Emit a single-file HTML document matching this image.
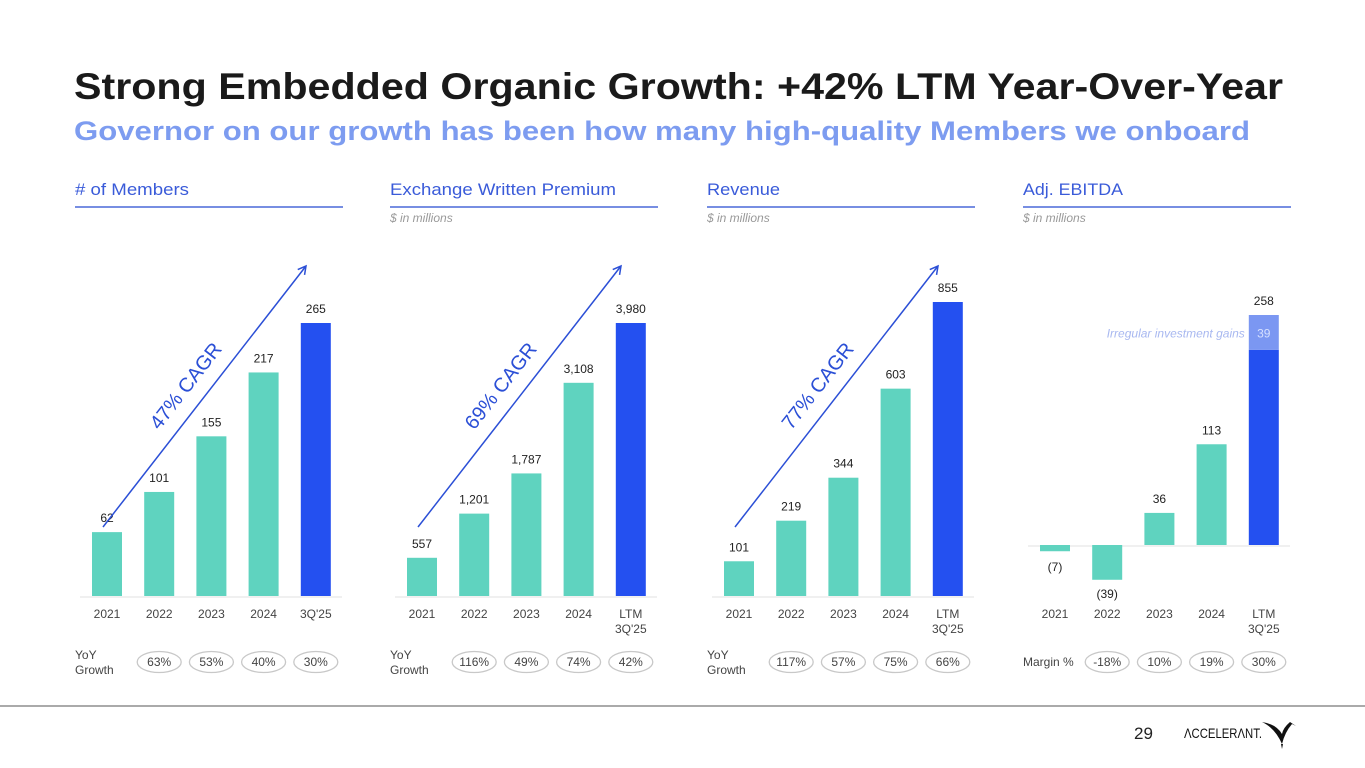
<!DOCTYPE html>
<html><head><meta charset="utf-8"><style>
body{margin:0;width:1365px;height:768px;background:#fff;overflow:hidden;font-family:"Liberation Sans",sans-serif}
svg{position:absolute;left:0;top:0}
</style></head><body>
<svg id="s" width="1365" height="768">
<text x="74" y="99" font-size="37" font-weight="bold" fill="#1a1a1a" textLength="1209" lengthAdjust="spacingAndGlyphs">Strong Embedded Organic Growth: +42% LTM Year-Over-Year</text>
<text x="74" y="140" font-size="27" font-weight="bold" fill="#7d9cf0" textLength="1176" lengthAdjust="spacingAndGlyphs">Governor on our growth has been how many high-quality Members we onboard</text>
<line x1="0" y1="706" x2="1365" y2="706" stroke="#777" stroke-width="1.2"/>
<text x="1134" y="739" font-size="17" fill="#222">29</text>
<text x="1184" y="738" font-size="14" fill="#111" textLength="78" lengthAdjust="spacingAndGlyphs">ΛCCELERΛNT.</text>
<path d="M1262 722 Q1275 728 1282 744 Q1285 732 1292 724 L1296 726 L1290 722 Q1283 728 1282 734 Q1276 724 1262 722Z M1281 744 L1283 744 L1282 749Z" fill="#111"/>
</svg>
<script>
const cats1=["2021","2022","2023","2024","3Q'25"];
const cats2=["2021","2022","2023","2024","LTM|3Q'25"];
const members=[62,101,155,217,265];
const premium=[557,1201,1787,3108,3980];
const revenue=[101,219,344,603,855];
const ebitda=[-7,-39,36,113,219];
const gains=[0,0,0,0,39];
const memLbl=["62","101","155","217","265"];
const premLbl=["557","1,201","1,787","3,108","3,980"];
const revLbl=["101","219","344","603","855"];
const ebLbl=["(7)","(39)","36","113","258"];
const yoy1=["63%","53%","40%","30%"];
const yoy2=["116%","49%","74%","42%"];
const yoy3=["117%","57%","75%","66%"];
const margin=["-18%","10%","19%","30%"];
const S=document.getElementById('s');
const NS="http://www.w3.org/2000/svg";
function mk(t,a,txt){const e=document.createElementNS(NS,t);for(const k in a)e.setAttribute(k,a[k]);if(txt!=null)e.textContent=txt;S.appendChild(e);return e;}
const panels=[
 {x0:75,title:"# of Members",tl:114,sub:null,cats:cats1,vals:members,lbl:memLbl,yoy:yoy1,yl:"YoY|Growth",base:596,top:323,max:265,cagr:"47% CAGR",key:"members"},
 {x0:390,title:"Exchange Written Premium",tl:226,sub:"$ in millions",cats:cats2,vals:premium,lbl:premLbl,yoy:yoy2,yl:"YoY|Growth",base:596,top:323,max:3980,cagr:"69% CAGR",key:"premium"},
 {x0:707,title:"Revenue",tl:73,sub:"$ in millions",cats:cats2,vals:revenue,lbl:revLbl,yoy:yoy3,yl:"YoY|Growth",base:596,top:302,max:855,cagr:"77% CAGR",key:"revenue"},
 {x0:1023,title:"Adj. EBITDA",tl:100,sub:"$ in millions",cats:cats2,vals:ebitda,lbl:ebLbl,yoy:margin,yl:"Margin %",base:545,top:315,max:258,cagr:null,key:"ebitda"}
];
panels.forEach((p,pi)=>{
 const t=mk('text',{x:p.x0,y:195,'font-size':17,fill:'#3a5bd9',textLength:p.tl,lengthAdjust:'spacingAndGlyphs'},p.title);
 
 const l=mk('line',{x1:p.x0,y1:207,x2:p.x0+268,y2:207,stroke:'#4a68d8','stroke-width':1.6});
 
 if(p.sub){const s=mk('text',{x:p.x0,y:222,'font-size':12,'font-style':'italic',fill:'#999'},p.sub);
  }
 const bl=mk('line',{x1:p.x0+5,y1:p.base+1,x2:p.x0+267,y2:p.base+1,stroke:'#e2e2e2','stroke-width':1});
 
 const sc=v=>v*(p.base-p.top)/p.max;
 const cx=i=>p.x0+32+i*52.2;
 p.vals.forEach((v,i)=>{
  const h=sc(Math.abs(v)),last=i==4;
  const y=v>=0?p.base-h:p.base;
  const r=mk('rect',{x:cx(i)-15,y:y,width:30,height:h,fill:last?'#2450f0':'#5fd3bf'});
  
  let ly;
  if(pi==3&&gains[i]>0){const gh=sc(gains[i]);
   const g=mk('rect',{x:cx(i)-15,y:y-gh,width:30,height:gh,fill:'#7b97f2'});
   
   const gt=mk('text',{x:cx(i),y:y-gh/2+5,'font-size':12,fill:'#d6e0ff','text-anchor':'middle'},String(gains[i]));
   
   const gl=mk('text',{x:cx(i)-19,y:y-gh/2+5,'font-size':12,'font-style':'italic',fill:'#a8b8f0','text-anchor':'end'},'Irregular investment gains');
   
   ly=y-gh-10;}
  else ly=v>=0?y-10:y+h+18;
  if(pi==3&&v<0&&i==0)ly=p.base+26;
  if(pi==3&&v<0&&i==1)ly=p.base+53;
  const vt=mk('text',{x:cx(i),y:ly,'font-size':12,fill:'#222','text-anchor':'middle'},p.lbl[i]);
  
  const c=p.cats[i].split('|');
  c.forEach((s,j)=>{const ct=mk('text',{x:cx(i),y:618+j*15,'font-size':12,fill:'#444','text-anchor':'middle'},s);
   });
 });
 p.yoy.forEach((s,i)=>{
  const e=mk('ellipse',{cx:cx(i+1),cy:662,rx:22,ry:10.5,fill:'#fff',stroke:'#c8c8c8','stroke-width':1.3});
  
  const tt=mk('text',{x:cx(i+1),y:666,'font-size':12,fill:'#444','text-anchor':'middle'},s);
  
 });
 const yl=p.yl.split('|');
 yl.forEach((s,j)=>{const yt=mk('text',{x:p.x0,y:(yl.length>1?659:666)+j*15,'font-size':12,fill:'#444'},s);
  });
 if(p.cagr){
  const x1=p.x0+28,y1=527,x2=p.x0+231,y2=266;
  const a=mk('line',{x1:x1,y1:y1,x2:x2,y2:y2,stroke:'#2b4fd6','stroke-width':1.5});
  
  const ang=Math.atan2(y2-y1,x2-x1);
  const hp=mk('polyline',{points:`${x2-9*Math.cos(ang-0.5)},${y2-9*Math.sin(ang-0.5)} ${x2},${y2} ${x2-9*Math.cos(ang+0.5)},${y2-9*Math.sin(ang+0.5)}`,fill:'none',stroke:'#2b4fd6','stroke-width':1.5});
  
  const mx=p.x0+116,my=390,deg=ang*180/Math.PI;
  const ct=mk('text',{x:mx,y:my,'font-size':20,fill:'#2b4fd6','text-anchor':'middle',transform:`rotate(${deg} ${mx} ${my})`},p.cagr);
  
 }
});
</script>
</body></html>
